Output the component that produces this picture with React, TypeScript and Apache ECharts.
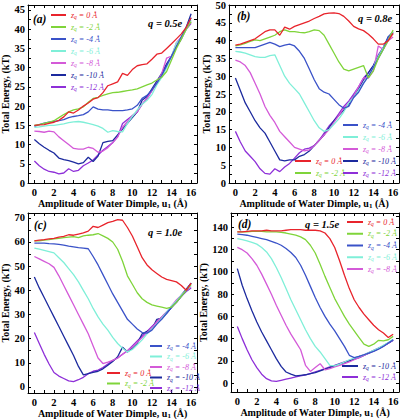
import React, { useEffect, useRef } from "react";
import * as echarts from "echarts";

// ---------- data ----------
const U1 = [0, 0.5, 1, 1.5, 2, 2.5, 3, 3.5, 4, 4.5, 5, 5.5, 6, 6.5, 7, 7.5, 8, 8.5, 9, 9.5, 10, 10.5, 11, 11.5, 12, 12.5, 13, 13.5, 14, 14.5, 15, 15.5, 16];
const ZQ = ["0", "-2", "-4", "-6", "-8", "-10", "-12"];
const LINE_COLORS = ["#e8242c", "#7fd43a", "#3a52c8", "#7fefd8", "#d45ad8", "#1c2a9e", "#8e2fd8"];

const X_TICKS = [0, 1, 2, 3, 4, 5, 6, 7, 8, 9, 10, 11, 12, 13, 14, 15, 16];
const X_LABELS = [0, 2, 4, 6, 8, 10, 12, 14, 16];

const A_Y_LABELS = [0, 5, 10, 15, 20, 25, 30, 35, 40, 45];
const A_Y_TICKS = [0, 2.5, 5, 7.5, 10, 12.5, 15, 17.5, 20, 22.5, 25, 27.5, 30, 32.5, 35, 37.5, 40, 42.5, 45];
const B_Y_LABELS = [0, 5, 10, 15, 20, 25, 30, 35, 40, 45, 50];
const B_Y_TICKS = [0, 2.5, 5, 7.5, 10, 12.5, 15, 17.5, 20, 22.5, 25, 27.5, 30, 32.5, 35, 37.5, 40, 42.5, 45, 47.5, 50];
const C_Y_LABELS = [0, 10, 20, 30, 40, 50, 60, 70];
const C_Y_TICKS = [0, 5, 10, 15, 20, 25, 30, 35, 40, 45, 50, 55, 60, 65, 70];
const D_Y_LABELS = [0, 20, 40, 60, 80, 100, 120, 140];
const D_Y_TICKS = [0, 10, 20, 30, 40, 50, 60, 70, 80, 90, 100, 110, 120, 130, 140, 150];

// (a) q = 0.5e
const A_Z0 = [15, 15.1, 15.2, 15.5, 15.8, 16.3, 17.2, 18.5, 18.2, 19, 20, 20.8, 21.8, 22.2, 23.5, 25.3, 25.8, 26.3, 28.5, 28, 29.5, 30.5, 30.8, 31, 32.2, 33.5, 33.8, 35, 36.2, 37.5, 38.8, 40.5, 43];
const A_Z2 = [15, 15.2, 15.5, 15.8, 16.2, 17, 17.8, 18.5, 19, 19.3, 19.8, 21, 22, 22.3, 22.8, 23.2, 23.5, 23.6, 23.8, 24, 24.2, 24.5, 25, 25.5, 26, 26.8, 27.5, 29, 32, 35, 37.5, 40, 42];
const A_Z4 = [14.8, 15.2, 15.6, 15.8, 16, 16.2, 16.5, 17, 17.3, 17.5, 17.8, 18.5, 19.8, 19.2, 19, 19, 18.8, 18.8, 18.8, 19, 19.3, 20.2, 22, 22.8, 24.2, 26, 28, 30.5, 33, 35.5, 38, 40.5, 43];
const A_Z6 = [14.5, 14.6, 14.8, 15, 15, 15.2, 15.4, 15.7, 15.9, 16, 15.8, 15.5, 15.2, 14.8, 14.2, 13.2, 13.6, 13.4, 13.3, 15.5, 17.3, 19, 20.5, 21.5, 23, 25.5, 27.5, 30, 33, 36.5, 37.5, 40, 42.5];
const A_Z8 = [13.5, 13.4, 13.2, 13.5, 13.3, 12, 11, 10, 9, 8.8, 8.8, 9.3, 9, 8, 8.3, 9.2, 10.5, 12, 14.5, 16, 17.5, 18.5, 20.5, 22, 24, 26, 28.5, 32.5, 33, 36.5, 38, 40, 42];
const A_Z10 = [11.3, 10.2, 9.3, 8.5, 7.8, 6.5, 6.1, 5.8, 5.4, 5, 5.3, 6.7, 5.6, 7, 10.5, 10.8, 11, 12.5, 14, 15.5, 17, 18.5, 21.5, 22.5, 24.5, 26.5, 28.5, 31, 33, 35.5, 37.5, 40.5, 44];
const A_Z12 = [5.7, 4.5, 3.6, 3, 2.8, 2.4, 2.6, 3.7, 3, 3.3, 4.5, 5.2, 6, 7.3, 8.5, 9.5, 10.5, 12, 15.5, 16.5, 17.5, 18.5, 20.5, 22, 24, 26, 28, 30.5, 33, 35.5, 37.5, 40, 41.5];

// (b) q = 0.8e
const B_Z0 = [38.7, 39, 39.5, 40, 40.5, 41.5, 42.5, 43, 43, 41.5, 43.8, 43.2, 44, 44.5, 45, 45.5, 46.2, 46.8, 47.5, 47.7, 47.8, 47.6, 46.8, 45.5, 44, 43.3, 42.8, 41.8, 40.5, 39, 39, 40, 42];
const B_Z2 = [38.5, 38.8, 39.2, 39.8, 40.2, 40, 40.5, 41, 41.5, 42.5, 43, 42.5, 42.5, 42.3, 42.2, 42.5, 43, 42.8, 41.5, 39, 36.5, 34, 32, 31.5, 32, 32.5, 33, 29.5, 31.5, 35, 37.5, 40, 43];
const B_Z4 = [38, 38, 38, 38, 38, 38.5, 39, 39.5, 39, 38.3, 38.7, 39, 38.5, 37, 35, 32, 29, 26.5, 25.5, 25, 23.5, 22, 21, 21.5, 24, 25.5, 28, 30, 32.5, 35, 37.5, 41, 42];
const B_Z6 = [37, 36.8, 36.5, 36, 35.5, 35.3, 35.3, 35.8, 36, 33, 30, 28, 26.5, 25, 22.5, 20, 17.5, 15.5, 14.5, 15, 16.5, 18, 20, 22.5, 24, 26, 28, 30, 32.5, 35.5, 38, 40.5, 42.5];
const B_Z8 = [34.5, 34, 33, 31, 28, 25, 21.5, 19, 17, 14.5, 13, 11.5, 10, 9.5, 9, 9.3, 10.5, 12, 13.5, 15, 17, 19, 21, 22.5, 24.5, 27, 29.5, 29.5, 31.5, 38.5, 37.5, 40, 41];
const B_Z10 = [29.5, 26, 22.5, 20, 17.5, 15.5, 14, 11.5, 9, 6.5, 6.2, 6.5, 6.5, 7.5, 8, 9, 10.5, 12, 13.5, 15.5, 17.5, 19, 20.5, 22, 24.5, 26.5, 29, 31, 33, 35.5, 38, 41, 42.5];
const B_Z12 = [14.5, 11.5, 9, 7.5, 6, 4, 2.7, 2.5, 4, 3.2, 4.5, 5.5, 7, 8.5, 9.5, 9.8, 10.5, 12, 14, 16, 17.5, 19.5, 21.5, 23, 25, 27, 29.5, 31, 33, 36, 38, 40.5, 42];

// (c) q = 1.0e
const C_Z0 = [60.5, 60.8, 61, 61.3, 61.5, 62, 62.3, 63, 62.8, 63.3, 63.8, 64.5, 66.5, 66, 67, 68, 68.5, 69.3, 69, 66, 62.5, 58, 53.5, 50.5, 48.5, 47, 45.5, 44.5, 44, 43.5, 42, 40, 43];
const C_Z2 = [60.5, 60.5, 60.8, 61, 61.3, 61.5, 61.8, 62, 62.2, 61.8, 62.5, 62.8, 63, 63.5, 62.5, 61.5, 60, 57, 52, 46, 42.5, 39, 36.5, 35, 34, 33.5, 33, 32.5, 33, 35, 37.5, 40, 42.5];
const C_Z4 = [59.5, 59.5, 59.5, 59.3, 59.2, 59, 58.7, 58.3, 58, 57.7, 57.5, 57.2, 54, 50.5, 46.5, 42.5, 38.5, 35, 31.5, 28, 26, 24, 22.5, 22.3, 23.5, 26, 28, 30.5, 33, 35, 37.5, 40, 43];
const C_Z6 = [57.5, 57, 56.5, 56, 55.5, 53.5, 51.5, 49, 46.5, 43.5, 40, 36.5, 32.5, 29, 26, 23.5, 20.5, 18, 16, 14.5, 15.5, 17.5, 19.5, 22, 24, 26, 28.5, 31, 33.5, 35.5, 38, 40, 42];
const C_Z8 = [54, 53, 52, 51, 49.5, 46, 42, 38, 34, 30, 26, 22, 17, 12, 9.7, 10.3, 11, 12, 13.5, 15, 16.5, 18.5, 20.5, 22.5, 24.5, 27, 29, 31, 33.5, 36, 38, 40, 41.5];
const C_Z10 = [45.5, 41, 37, 33, 29, 25, 21, 17, 13, 8.5, 5, 5.5, 6, 6.5, 7.5, 9, 10.5, 12.5, 16.5, 14.5, 16, 18, 22, 23, 24, 28, 28.5, 30.5, 33, 35.5, 38, 40.5, 43];
const C_Z12 = [22.5, 18, 13.5, 9.5, 6, 4.5, 3.5, 2.5, 2.2, 3, 4, 5.5, 6.5, 7, 8, 9.5, 11, 12, 13.5, 15, 17, 19, 21, 23, 25, 27, 29, 31, 33, 35, 37.5, 39.5, 41];

// (d) q = 1.5e
const D_Z0 = [136, 136, 136.5, 137, 137, 137, 137.5, 137, 137, 137, 137.5, 138, 138, 138, 137.5, 137.5, 137.5, 137, 135, 130, 122, 110, 97, 85, 75, 68, 62, 57, 52, 48, 45, 41, 44];
const D_Z2 = [136, 136, 136, 136.5, 136.5, 136.5, 136, 136, 136, 135.5, 135, 134, 133, 131.5, 129, 124, 117, 107, 96, 86, 76, 68, 60, 53, 47, 41, 35, 33, 35, 38.5, 38, 39, 42];
const D_Z4 = [134, 133.5, 133, 132, 131, 130, 129, 127.5, 126, 124, 121, 117.5, 113, 106, 97, 87, 77, 68, 60, 53, 47, 40, 33, 25, 23, 24, 25.5, 27, 28.5, 30.5, 33, 36, 39];
const D_Z6 = [130, 129, 128, 126.5, 125, 122, 118, 112, 104, 95, 85, 75, 66, 57, 48, 40, 33, 28, 22, 16, 15.5, 17, 19, 21, 22.5, 24, 25.5, 27.5, 29.5, 31.5, 34, 36.5, 39.5];
const D_Z8 = [122, 120, 117, 112, 106, 98, 89, 80, 70, 61, 52, 44, 37, 30, 16, 10.5, 14, 17.5, 12, 13, 14.5, 16, 17.5, 19, 21, 23, 25, 27, 29, 31, 33.5, 36, 39];
const D_Z10 = [103, 88, 76, 65, 55, 46, 38, 30, 22, 15, 10, 8, 6.5, 7, 7.5, 8.5, 9.5, 11, 12.5, 14, 15.5, 17, 18.5, 20, 21.5, 23, 25, 27, 29, 31, 33.5, 36, 38.5];
const D_Z12 = [51, 40, 30, 21, 14, 8, 4, 2, 1.5, 2.5, 3.5, 4.5, 5.5, 6.5, 7.5, 8.5, 10, 11.5, 13, 14.5, 16, 17.5, 19, 20.5, 22, 24, 25.5, 27.5, 29.5, 31.5, 33.5, 36, 38.5];

const PANELS = [
  { id: "a", q: "0.5", curves: [A_Z0, A_Z2, A_Z4, A_Z6, A_Z8, A_Z10, A_Z12], yMin: 0, yMax: 46.3, yLabels: A_Y_LABELS, yTicks: A_Y_TICKS },
  { id: "b", q: "0.8", curves: [B_Z0, B_Z2, B_Z4, B_Z6, B_Z8, B_Z10, B_Z12], yMin: 0, yMax: 50, yLabels: B_Y_LABELS, yTicks: B_Y_TICKS },
  { id: "c", q: "1.0", curves: [C_Z0, C_Z2, C_Z4, C_Z6, C_Z8, C_Z10, C_Z12], yMin: -2.5, yMax: 72, yLabels: C_Y_LABELS, yTicks: C_Y_TICKS },
  { id: "d", q: "1.5", curves: [D_Z0, D_Z2, D_Z4, D_Z6, D_Z8, D_Z10, D_Z12], yMin: -8, yMax: 153, yLabels: D_Y_LABELS, yTicks: D_Y_TICKS },
];

// ---------- layout ----------
const FONT = '"Liberation Serif", "Times New Roman", serif';
const X_MIN = -0.65;
const X_MAX = 16.6;
const LEGEND_FS = 8;

const LAYOUT = [
  {
    grid: { left: 28, top: 5, width: 169, height: 178 },
    xNameGap: 13, yNameGap: 16,
    legends: [{ idx: [0, 1, 2, 3, 4, 5, 6], left: 51, top: 10, gap: 2, lh: 10, w: 15 }],
    tag: [33, 19], qPos: [148, 23],
  },
  {
    grid: { left: 229, top: 5, width: 170, height: 178 },
    xNameGap: 13, yNameGap: 13,
    legends: [
      { idx: [0, 1], left: 295, top: 156, gap: 2, lh: 10, w: 16 },
      { idx: [2, 3, 4, 5, 6], left: 343, top: 120, gap: 2, lh: 10, w: 15 },
    ],
    tag: [237, 16], qPos: [358, 18],
  },
  {
    grid: { left: 28, top: 213, width: 169, height: 180 },
    xNameGap: 14, yNameGap: 16,
    legends: [
      { idx: [0, 1], left: 107, top: 368, gap: 0.5, lh: 9, w: 13 },
      { idx: [2, 3, 4, 5, 6], left: 150, top: 341, gap: 0.5, lh: 9, w: 12 },
    ],
    tag: [34, 225], qPos: [148, 232],
  },
  {
    grid: { left: 231, top: 213, width: 168, height: 179 },
    xNameGap: 14, yNameGap: 13,
    legends: [
      { idx: [0, 1, 2, 3, 4], left: 347, top: 217, gap: 1.75, lh: 10, w: 16 },
      { idx: [5, 6], left: 342, top: 361, gap: 1, lh: 10, w: 16 },
    ],
    tag: [238, 224], qPos: [305, 224],
  },
];

function buildOption() {
  const grid: any[] = [];
  const xAxis: any[] = [];
  const yAxis: any[] = [];
  const series: any[] = [];
  const legend: any[] = [];
  const graphic: any[] = [];

  const rich: any = {};
  LINE_COLORS.forEach((c, k) => {
    rich["i" + k] = { color: c, fontFamily: FONT, fontStyle: "italic", fontSize: LEGEND_FS };
    rich["s" + k] = { color: c, fontFamily: FONT, fontStyle: "italic", fontSize: 5.5, padding: [4, 0, 0, 0] };
  });

  PANELS.forEach((p, i) => {
    const L = LAYOUT[i];
    grid.push({ ...L.grid, containLabel: false, outerBoundsMode: "none" });

    const axisLine = { show: true, onZero: false, lineStyle: { color: "#000", width: 1 } };
    const labelStyle = { fontFamily: FONT, fontWeight: "bold", fontSize: 10.5, color: "#000" };

    xAxis.push({
      type: "value", gridIndex: i, position: "bottom", min: X_MIN, max: X_MAX,
      axisLine,
      axisTick: { show: true, inside: true, length: 3, customValues: X_TICKS, lineStyle: { color: "#000" } },
      axisLabel: { show: true, customValues: X_LABELS, margin: 4, ...labelStyle },
      splitLine: { show: false },
      name: "{n|Amplitude of Water Dimple, u}{s|1}{n| (Å)}",
      nameLocation: "middle", nameGap: L.xNameGap,
      nameTextStyle: {
        rich: {
          n: { fontFamily: FONT, fontWeight: "bold", fontSize: 10, color: "#000" },
          s: { fontFamily: FONT, fontWeight: "bold", fontSize: 7, color: "#000", padding: [5, 0, 0, 0] },
        },
      },
    });
    xAxis.push({
      type: "value", gridIndex: i, position: "top", min: X_MIN, max: X_MAX,
      axisLine,
      axisTick: { show: true, inside: true, length: 3, customValues: X_TICKS, lineStyle: { color: "#000" } },
      axisLabel: { show: false },
      splitLine: { show: false },
    });
    yAxis.push({
      type: "value", gridIndex: i, position: "left", min: p.yMin, max: p.yMax,
      axisLine,
      axisTick: { show: true, inside: true, length: 3, customValues: p.yTicks, lineStyle: { color: "#000" } },
      axisLabel: { show: true, customValues: p.yLabels, margin: 3, ...labelStyle },
      splitLine: { show: false },
      name: "Total Energy, (kT)",
      nameLocation: "middle", nameGap: L.yNameGap,
      nameTextStyle: { fontFamily: FONT, fontWeight: "bold", fontSize: 10, color: "#000" },
    });
    yAxis.push({
      type: "value", gridIndex: i, position: "right", min: p.yMin, max: p.yMax,
      axisLine,
      axisTick: { show: true, inside: true, length: 3, customValues: p.yTicks, lineStyle: { color: "#000" } },
      axisLabel: { show: false },
      splitLine: { show: false },
    });

    p.curves.forEach((vals, k) => {
      series.push({
        type: "line",
        name: p.id + "|" + ZQ[k],
        xAxisIndex: 2 * i,
        yAxisIndex: 2 * i,
        data: U1.map((u, j) => [u, vals[j]]),
        showSymbol: false,
        symbol: "none",
        lineStyle: { color: LINE_COLORS[k], width: 1.3 },
        itemStyle: { color: LINE_COLORS[k] },
        z: 10 - k,
      });
    });

    L.legends.forEach((lg) => {
      legend.push({
        orient: "vertical",
        left: lg.left, top: lg.top, padding: 0,
        itemGap: lg.gap, itemWidth: lg.w, itemHeight: 2,
        icon: "rect",
        selectedMode: false,
        data: lg.idx.map((k) => ({ name: p.id + "|" + ZQ[k] })),
        formatter: (name: string) => {
          const z = name.split("|")[1];
          const k = ZQ.indexOf(z);
          return `{i${k}|z}{s${k}|q}{i${k}| = ${z} Å}`;
        },
        textStyle: {
          fontFamily: FONT, fontStyle: "italic", fontSize: LEGEND_FS, lineHeight: lg.lh,
          rich: Object.fromEntries(Object.entries(rich).map(([key, v]: any) => [key, { ...v, lineHeight: lg.lh }])),
        },
      });
    });

    graphic.push({
      type: "text", x: L.tag[0], y: L.tag[1],
      style: { text: `(${p.id})`, fontFamily: FONT, fontStyle: "italic", fontWeight: "bold", fontSize: 11.5, fill: "#000", verticalAlign: "middle" },
    });
    graphic.push({
      type: "text", x: L.qPos[0], y: L.qPos[1],
      style: { text: `q = ${p.q}e`, fontFamily: FONT, fontStyle: "italic", fontWeight: "bold", fontSize: 10.5, fill: "#000", verticalAlign: "middle" },
    });
  });

  return {
    animation: false,
    backgroundColor: "#fff",
    textStyle: { fontFamily: FONT },
    grid, xAxis, yAxis, series, legend, graphic,
  };
}

export default function App() {
  const ref = useRef<HTMLDivElement>(null);
  useEffect(() => {
    if (!ref.current) return;
    const chart = echarts.init(ref.current, undefined, { renderer: "svg" });
    chart.setOption(buildOption());
    return () => chart.dispose();
  }, []);
  return (
    <div
      ref={ref}
      style={{ position: "absolute", left: 0, top: 0, width: 400, height: 420 }}
    />
  );
}
